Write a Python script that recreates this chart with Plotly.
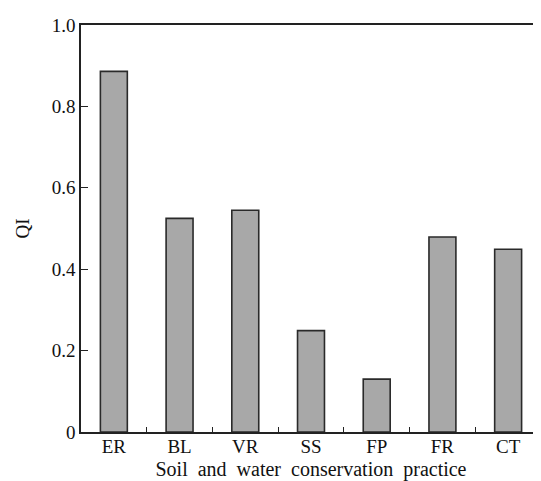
import plotly.graph_objects as go

categories = ["ER", "BL", "VR", "SS", "FP", "FR", "CT"]
qi_values = [0.886, 0.525, 0.545, 0.249, 0.130, 0.479, 0.449]
y_tick_vals = [0, 0.2, 0.4, 0.6, 0.8, 1.0]
y_tick_text = ["0", "0.2", "0.4", "0.6", "0.8", "1.0"]
x_title = "Soil  and  water  conservation  practice"
y_title = "QI"

FONT = "Liberation Serif, Times New Roman, serif"

fig = go.Figure(
    go.Bar(
        x=categories,
        y=qi_values,
        width=0.41,
        marker=dict(color="#a8a8a8", line=dict(color="#2a2a2a", width=1.6)),
    )
)

# page body has an 8px margin; compensate so the plot sits where the reference does
fig.update_layout(
    width=533,
    height=473,
    margin=dict(l=73, r=0, t=17, b=49),
    paper_bgcolor="white",
    plot_bgcolor="white",
    showlegend=False,
    font=dict(family=FONT, size=19, color="#111111"),
)

fig.update_xaxes(
    type="category",
    range=[-0.5, 6.5],
    showline=True,
    linecolor="#222222",
    linewidth=1.6,
    mirror=True,
    ticks="inside",
    tickson="boundaries",
    ticklen=5,
    tickwidth=1.3,
    tickcolor="#222222",
    showgrid=False,
    ticklabelstandoff=-4,
    tickfont=dict(family=FONT, size=19),
    title=dict(text=x_title.replace("  ", " &nbsp;"), font=dict(family=FONT, size=20), standoff=9),
)

fig.update_yaxes(
    range=[0, 1.0],
    tickvals=y_tick_vals,
    ticktext=y_tick_text,
    showline=True,
    linecolor="#222222",
    linewidth=1.6,
    ticks="inside",
    ticklen=7,
    tickwidth=1.3,
    tickcolor="#222222",
    showgrid=False,
    zeroline=False,
    tickfont=dict(family=FONT, size=19),
    title=dict(text=y_title, font=dict(family=FONT, size=19), standoff=17),
)

fig.write_html("out.html")
